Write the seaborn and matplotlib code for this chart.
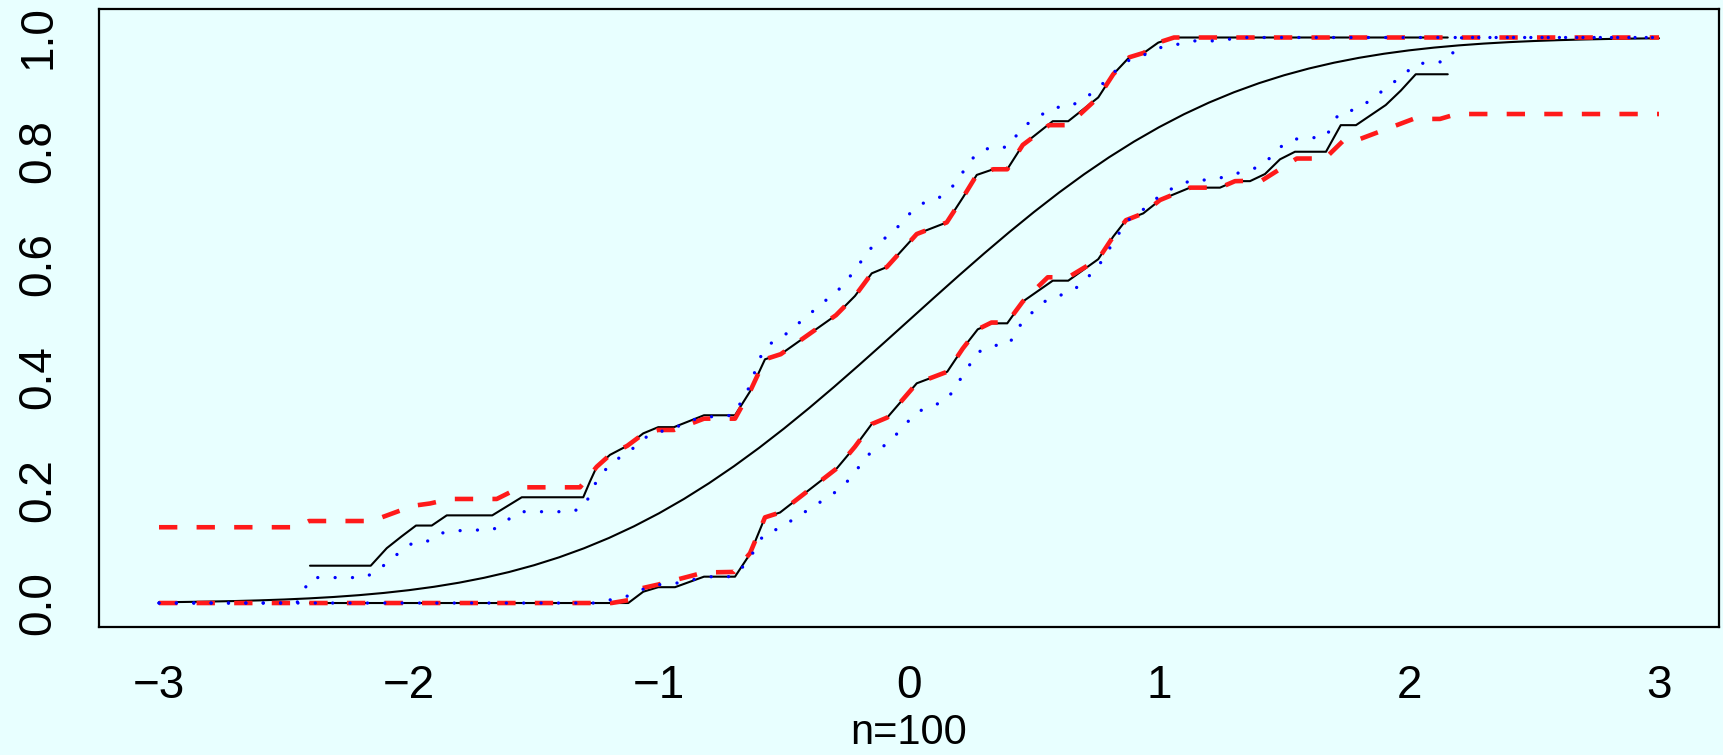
import numpy as np
import pandas as pd
import matplotlib
matplotlib.use("Agg")
import matplotlib.pyplot as plt
import seaborn as sns

# ---------------- data ----------------
cdf_x = [-3.0, -2.9, -2.8, -2.7, -2.6, -2.5, -2.4, -2.3, -2.2, -2.1, -2.0, -1.9, -1.8, -1.7,
         -1.6, -1.5, -1.4, -1.3, -1.2, -1.1, -1.0, -0.9, -0.8, -0.7, -0.6, -0.5, -0.4, -0.3,
         -0.2, -0.1, 0.0, 0.1, 0.2, 0.3, 0.4, 0.5, 0.6, 0.7, 0.8, 0.9, 1.0, 1.1, 1.2, 1.3,
         1.4, 1.5, 1.6, 1.7, 1.8, 1.9, 2.0, 2.1, 2.2, 2.3, 2.4, 2.5, 2.6, 2.7, 2.8, 2.9, 3.0]
cdf_y = [0.00135, 0.00187, 0.00256, 0.00347, 0.00466, 0.00621, 0.00820, 0.01072, 0.01390,
         0.01786, 0.02275, 0.02872, 0.03593, 0.04457, 0.05480, 0.06681, 0.08076, 0.09680,
         0.11507, 0.13567, 0.15866, 0.18406, 0.21186, 0.24196, 0.27425, 0.30854, 0.34458,
         0.38209, 0.42074, 0.46017, 0.5, 0.53983, 0.57926, 0.61791, 0.65542, 0.69146,
         0.72575, 0.75804, 0.78814, 0.81594, 0.84134, 0.86433, 0.88493, 0.90320, 0.91924,
         0.93319, 0.94520, 0.95543, 0.96407, 0.97128, 0.97725, 0.98214, 0.98610, 0.98928,
         0.99180, 0.99379, 0.99534, 0.99653, 0.99744, 0.99813, 0.99865]

black_up_x = [-2.396, -2.153, -2.089, -2.029, -1.972, -1.909, -1.849, -1.667, -1.549, -1.303,
              -1.276, -1.249, -1.196, -1.127, -1.063, -1.003, -0.940, -0.820, -0.696, -0.636,
              -0.576, -0.513, -0.292, -0.216, -0.149, -0.089, 0.031, 0.151, 0.217, 0.271,
              0.337, 0.393, 0.455, 0.575, 0.637, 0.757, 0.817, 0.881, 0.940, 0.997, 1.060, 2.155]
black_up_y = [0.066, 0.066, 0.097, 0.118, 0.137, 0.137, 0.155, 0.155, 0.187, 0.187,
              0.215, 0.241, 0.262, 0.278, 0.300, 0.311, 0.311, 0.332, 0.332, 0.374,
              0.431, 0.440, 0.509, 0.543, 0.583, 0.594, 0.6525, 0.673, 0.718, 0.757,
              0.767, 0.767, 0.810, 0.852, 0.852, 0.894, 0.935, 0.965, 0.973, 0.991, 1.0, 1.0]

black_lo_x = [-2.396, -1.123, -1.063, -1.003, -0.936, -0.820, -0.696, -0.636, -0.576, -0.516,
              -0.289, -0.216, -0.149, -0.087, 0.031, 0.153, 0.215, 0.275, 0.330, 0.393,
              0.455, 0.575, 0.637, 0.757, 0.817, 0.868, 0.937, 1.004, 1.124, 1.244,
              1.304, 1.364, 1.424, 1.484, 1.544, 1.668, 1.727, 1.788, 1.907, 1.967, 2.027, 2.155]
black_lo_y = [0.0, 0.0, 0.020, 0.028, 0.028, 0.0466, 0.0466, 0.0867, 0.1515, 0.160,
              0.238, 0.2765, 0.3165, 0.328, 0.3885, 0.409, 0.450, 0.484, 0.4946, 0.4946,
              0.533, 0.570, 0.570, 0.608, 0.648, 0.677, 0.689, 0.7126, 0.7345, 0.7345,
              0.746, 0.746, 0.7586, 0.7846, 0.798, 0.798, 0.845, 0.845, 0.8806, 0.906, 0.935, 0.935]

red_up_x = [-3.0, -2.45, -2.40, -2.149, -1.983, -1.916, -1.836, -1.649, -1.556, -1.316,
            -1.249, -1.196, -1.127, -1.063, -1.003, -0.940, -0.820, -0.696, -0.636, -0.576,
            -0.513, -0.292, -0.216, -0.149, -0.089, 0.031, 0.151, 0.217, 0.271, 0.337,
            0.393, 0.455, 0.560, 0.637, 0.757, 0.817, 0.881, 0.940, 0.997, 1.060, 3.0]
red_up_y = [0.134, 0.134, 0.145, 0.145, 0.172, 0.176, 0.184, 0.184, 0.2046, 0.2046,
            0.241, 0.262, 0.278, 0.299, 0.306, 0.306, 0.326, 0.326, 0.374, 0.431,
            0.440, 0.509, 0.543, 0.583, 0.594, 0.6525, 0.673, 0.718, 0.757, 0.767,
            0.767, 0.810, 0.845, 0.845, 0.894, 0.935, 0.965, 0.973, 0.991, 1.0, 1.0]

red_lo_x = [-3.0, -1.19, -1.123, -1.07, -1.0, -0.82, -0.70, -0.636, -0.576, -0.516,
            -0.289, -0.216, -0.149, -0.087, 0.031, 0.153, 0.215, 0.275, 0.330, 0.393,
            0.455, 0.555, 0.637, 0.757, 0.817, 0.868, 0.937, 1.004, 1.124, 1.244,
            1.304, 1.411, 1.551, 1.664, 1.744, 1.804, 2.017, 2.124, 2.191, 3.0]
red_lo_y = [0.0, 0.0, 0.005, 0.026, 0.033, 0.054, 0.055, 0.088, 0.1515, 0.160,
            0.238, 0.2765, 0.3165, 0.328, 0.3885, 0.409, 0.450, 0.484, 0.496, 0.496,
            0.533, 0.576, 0.576, 0.608, 0.648, 0.677, 0.689, 0.7126, 0.7345, 0.7345,
            0.746, 0.747, 0.786, 0.786, 0.8205, 0.8205, 0.856, 0.856, 0.8647, 0.8647]

blue_up_x = [-3.0, -2.449, -2.392, -2.183, -2.129, -2.083, -2.036, -1.983, -1.919, -1.865,
             -1.796, -1.663, -1.556, -1.345, -1.296, -1.276, -1.249, -1.216, -1.173, -1.119,
             -1.076, -1.025, -0.959, -0.839, -0.703, -0.647, -0.588, -0.553, -0.497, -0.265,
             -0.196, -0.167, -0.069, -0.029, 0.008, 0.057, 0.121, 0.168, 0.268, 0.327,
             0.395, 0.431, 0.471, 0.524, 0.577, 0.644, 0.700, 0.753, 0.793, 0.837,
             0.884, 0.951, 1.011, 1.075, 1.144, 1.215, 1.281, 1.351, 3.0]
blue_up_y = [0.0, 0.0, 0.045, 0.045, 0.055, 0.074, 0.090, 0.107, 0.110, 0.124,
             0.128, 0.130, 0.1615, 0.1615, 0.172, 0.193, 0.216, 0.235, 0.253, 0.267,
             0.286, 0.301, 0.306, 0.328, 0.332, 0.374, 0.4415, 0.459, 0.474, 0.5605,
             0.601, 0.6225, 0.654, 0.6725, 0.691, 0.707, 0.717, 0.733, 0.794, 0.806,
             0.806, 0.8276, 0.8465, 0.8617, 0.876, 0.878, 0.892, 0.908, 0.927, 0.9455,
             0.961, 0.971, 0.983, 0.988, 0.994, 0.994, 0.997, 1.0, 1.0]

blue_lo_x = [-3.0, -1.249, -1.186, -1.119, -1.056, -0.993, -0.932, -0.856, -0.789, -0.716,
             -0.673, -0.636, -0.580, -0.519, -0.305, -0.256, -0.149, -0.087, 0.031, 0.095,
             0.153, 0.275, 0.335, 0.400, 0.457, 0.551, 0.608, 0.664, 0.751, 0.871,
             0.921, 1.015, 1.073, 1.133, 1.204, 1.268, 1.391, 1.441, 1.481, 1.535,
             1.668, 1.721, 1.781, 1.837, 1.984, 2.028, 2.097, 2.157, 2.211, 3.0]
blue_lo_y = [0.0, 0.0, 0.0065, 0.013, 0.026, 0.033, 0.035, 0.042, 0.0466, 0.0466,
             0.0595, 0.080, 0.122, 0.132, 0.1927, 0.210, 0.2688, 0.2806, 0.3378, 0.3484,
             0.360, 0.4433, 0.455, 0.458, 0.500, 0.536, 0.5446, 0.5553, 0.591, 0.6755,
             0.690, 0.7245, 0.7374, 0.748, 0.748, 0.754, 0.770, 0.786, 0.805, 0.820,
             0.8246, 0.867, 0.872, 0.8865, 0.936, 0.954, 0.955, 0.959, 1.0, 1.0]

x_ticks = [-3, -2, -1, 0, 1, 2, 3]
x_tick_labels = ["\u22123", "\u22122", "\u22121", "0", "1", "2", "3"]
y_ticks = [0.0, 0.2, 0.4, 0.6, 0.8, 1.0]
y_tick_labels = ["0.0", "0.2", "0.4", "0.6", "0.8", "1.0"]
x_label = "n=100"

# ---------------- style ----------------
BG = "#E8FFFF"
FS = 33
sns.set_theme(style="white")
plt.rcParams["font.family"] = ["Liberation Sans", "DejaVu Sans"]

fig = plt.figure(figsize=(17.23, 7.55), dpi=100, facecolor=BG)
ax = fig.add_axes([99 / 1723, 1 - 627 / 755, 1620 / 1723, 618 / 755])
ax.set_facecolor(BG)

def draw(xs, ys, **kw):
    df = pd.DataFrame({"x": xs, "y": ys})
    sns.lineplot(data=df, x="x", y="y", ax=ax, sort=False, estimator=None, **kw)

draw(cdf_x, cdf_y, color="black", lw=1.5)
draw(black_up_x, black_up_y, color="black", lw=1.5)
draw(black_lo_x, black_lo_y, color="black", lw=1.5)
draw(red_up_x, red_up_y, color="#FF1A1A", lw=3.3, linestyle=(0, (4.0, 4.2)))
draw(red_lo_x, red_lo_y, color="#FF1A1A", lw=3.3, linestyle=(0, (4.0, 4.2)))
draw(blue_up_x, blue_up_y, color="#0000FF", lw=2.4, linestyle=(0, (0.01, 5.2)),
     dash_capstyle="round")
draw(blue_lo_x, blue_lo_y, color="#0000FF", lw=2.4, linestyle=(0, (0.01, 5.2)),
     dash_capstyle="round")

ax.set_xlim(-3.24, 3.24)
ax.set_ylim(-0.0424, 1.0504)
ax.set_xticks(x_ticks)
ax.set_xticklabels(x_tick_labels, fontsize=FS)
ax.set_yticks(y_ticks)
ax.set_yticklabels(y_tick_labels, fontsize=FS, rotation=90, va="center")
ax.tick_params(axis="both", direction="out", length=11, width=1.5, color="black",
               labelcolor="black")
ax.tick_params(axis="x", pad=16)
ax.tick_params(axis="y", pad=17)
ax.set_xlabel(x_label, fontsize=30, color="black")
ax.xaxis.set_label_coords(0.5, (627 - 744) / 618)
ax.xaxis.label.set_va("baseline")
ax.set_ylabel("")
for s in ax.spines.values():
    s.set_visible(True)
    s.set_color("black")
    s.set_linewidth(1.6)

fig.savefig("out.png", dpi=100, facecolor=BG)
